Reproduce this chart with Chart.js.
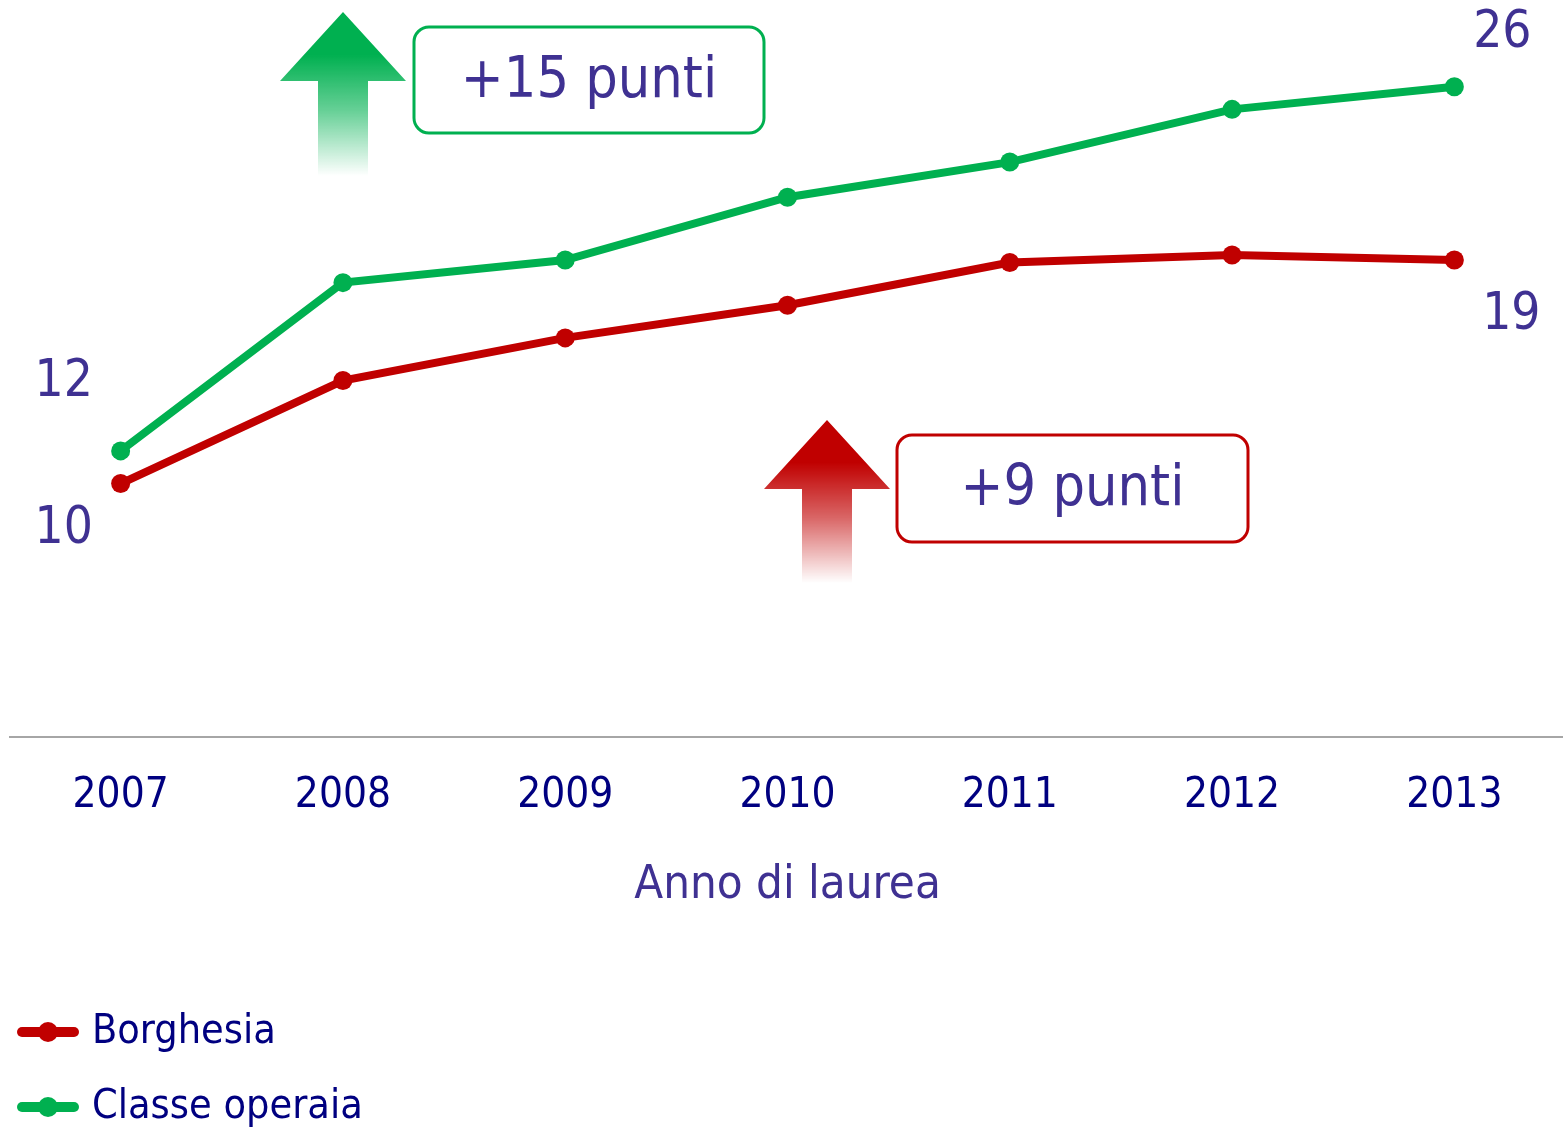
<!DOCTYPE html>
<html>
<head>
<meta charset="utf-8">
<script src="https://cdn.jsdelivr.net/npm/chart.js@4"></script>
<style>
  html, body { margin: 0; padding: 0; background: #fff; overflow: hidden; }
  #wrap { width: 1575px; height: 1130px; position: relative; }
</style>
</head>
<body>
<div id="wrap"><canvas id="chart"></canvas></div>
<script>
const years = ["2007", "2008", "2009", "2010", "2011", "2012", "2013"];
const borghesia = [10.1, 14.2, 15.9, 17.2, 18.9, 19.2, 19.0];
const classeOperaia = [11.4, 18.1, 19.0, 21.5, 22.9, 25.0, 25.9];
const borghesiaEnds = ["10", "19"];
const operaiaEnds = ["12", "26"];
const gains = ["+9 punti", "+15 punti"];

const RED = "#C00000";
const GREEN = "#00B050";
const PURPLE = "#3F3192";
const NAVY = "#000080";
const FONT = "'DejaVu Sans Condensed', 'DejaVu Sans', sans-serif";

function roundRect(ctx, x, y, w, h, r) {
  ctx.beginPath();
  ctx.moveTo(x + r, y);
  ctx.arcTo(x + w, y, x + w, y + h, r);
  ctx.arcTo(x + w, y + h, x, y + h, r);
  ctx.arcTo(x, y + h, x, y, r);
  ctx.arcTo(x, y, x + w, y, r);
  ctx.closePath();
}

function arrow(ctx, cx, tipY, baseY, endY, color) {
  const g = ctx.createLinearGradient(0, tipY, 0, endY);
  g.addColorStop(0, color);
  g.addColorStop(0.26, color);
  g.addColorStop(0.6, color + "99");
  g.addColorStop(1, color + "00");
  ctx.fillStyle = g;
  ctx.beginPath();
  ctx.moveTo(cx, tipY);
  ctx.lineTo(cx + 63, baseY);
  ctx.lineTo(cx + 25, baseY);
  ctx.lineTo(cx + 25, endY);
  ctx.lineTo(cx - 25, endY);
  ctx.lineTo(cx - 25, baseY);
  ctx.lineTo(cx - 63, baseY);
  ctx.closePath();
  ctx.fill();
}

function box(ctx, x, y, w, h, color, text) {
  roundRect(ctx, x, y, w, h, 15);
  ctx.fillStyle = "#fff";
  ctx.fill();
  ctx.strokeStyle = color;
  ctx.lineWidth = 3;
  ctx.stroke();
  ctx.fillStyle = PURPLE;
  ctx.font = "57px " + FONT;
  ctx.textAlign = "center";
  ctx.textBaseline = "middle";
  ctx.fillText(text, x + w / 2, y + h / 2 + 2);
}

const annotations = {
  id: "annotations",
  afterDatasetsDraw(chart) {
    const ctx = chart.ctx;
    ctx.save();

    arrow(ctx, 343, 12, 81, 176, GREEN);
    arrow(ctx, 827, 420, 489, 583, RED);
    box(ctx, 414, 27, 350, 106, GREEN, gains[1]);
    box(ctx, 897, 435, 351, 107, RED, gains[0]);

    // end values next to first and last points
    const red = chart.getDatasetMeta(0).data;
    const green = chart.getDatasetMeta(1).data;
    const last = years.length - 1;
    ctx.fillStyle = PURPLE;
    ctx.font = "51px " + FONT;
    ctx.textAlign = "center";
    ctx.textBaseline = "middle";
    ctx.fillText(operaiaEnds[0], green[0].x - 57, green[0].y - 68);
    ctx.fillText(borghesiaEnds[0], red[0].x - 57, red[0].y + 46);
    ctx.fillText(operaiaEnds[1], green[last].x + 48, green[last].y - 53);
    ctx.fillText(borghesiaEnds[1], red[last].x + 57, red[last].y + 56);

    // legend
    chart.data.datasets.forEach((ds, i) => {
      const y = 1032 + i * 75;
      ctx.strokeStyle = ds.borderColor;
      ctx.lineWidth = 10;
      ctx.lineCap = "round";
      ctx.beginPath();
      ctx.moveTo(22, y);
      ctx.lineTo(74, y);
      ctx.stroke();
      ctx.fillStyle = ds.borderColor;
      ctx.beginPath();
      ctx.arc(48, y, 10, 0, Math.PI * 2);
      ctx.fill();
      ctx.fillStyle = NAVY;
      ctx.font = "41px " + FONT;
      ctx.textAlign = "left";
      ctx.fillText(ds.label, 92, y);
    });
    ctx.restore();
  }
};

new Chart(document.getElementById("chart"), {
  type: "line",
  data: {
    labels: years,
    datasets: [
      {
        label: "Borghesia",
        data: borghesia,
        borderColor: RED,
        backgroundColor: RED,
        pointBackgroundColor: RED,
        borderWidth: 8,
        pointRadius: 9.5,
        pointBorderWidth: 0,
        tension: 0,
        clip: false
      },
      {
        label: "Classe operaia",
        data: classeOperaia,
        borderColor: GREEN,
        backgroundColor: GREEN,
        pointBackgroundColor: GREEN,
        borderWidth: 8,
        pointRadius: 9.5,
        pointBorderWidth: 0,
        tension: 0,
        clip: false
      }
    ]
  },
  options: {
    responsive: true,
    maintainAspectRatio: false,
    animation: false,
    layout: { padding: { top: 34, left: 4, right: 3, bottom: 216 } },
    plugins: {
      legend: { display: false },
      tooltip: { enabled: false }
    },
    scales: {
      x: {
        offset: true,
        grid: { display: false, drawTicks: false },
        border: { display: true, color: "#A6A6A6", width: 2 },
        ticks: { color: NAVY, padding: 34, font: { family: FONT, size: 42 } },
        title: {
          display: true,
          text: "Anno di laurea",
          color: PURPLE,
          font: { family: FONT, size: 47 },
          padding: { top: 2, bottom: 0 }
        },
        afterFit(scale) {
          scale.paddingLeft = 0;
          scale.paddingRight = 0;
        }
      },
      y: { display: false, min: 0, max: 28 }
    }
  },
  plugins: [annotations]
});
</script>
</body>
</html>
